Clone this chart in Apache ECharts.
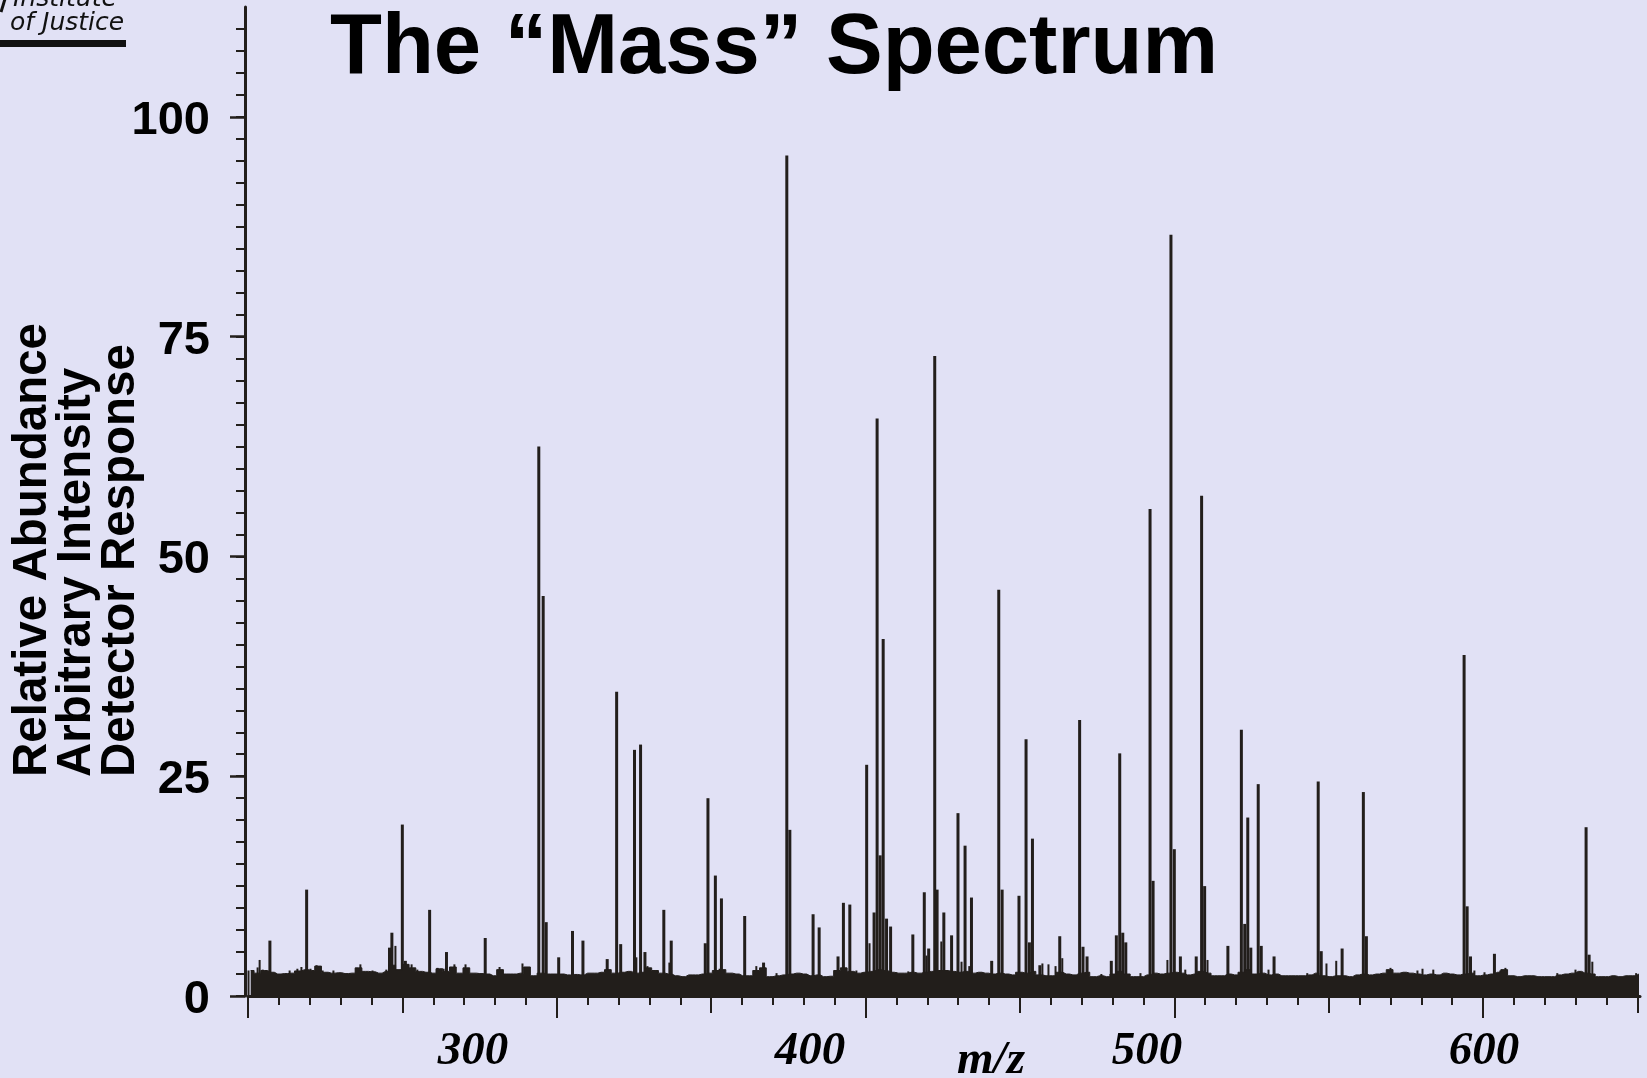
<!DOCTYPE html>
<html>
<head>
<meta charset="utf-8">
<title>The “Mass” Spectrum</title>
<script src="https://cdn.jsdelivr.net/npm/echarts@6/dist/echarts.min.js"></script>
<style>
  html, body { margin: 0; padding: 0; background: #e1e1f5; }
  #chart { width: 1647px; height: 1078px; }
</style>
</head>
<body>
<div id="chart"></div>
<script>
// Resolved peaks: m/z position and relative abundance (%)
const peakMz = [
  239.7, 250.6, 275.2, 275.9, 279.0, 279.9, 287.1, 292.1, 303.6,
  319.5, 320.8, 321.7, 325.4, 329.5, 332.6, 339.8, 342.6, 343.8, 347.9, 349.7, 351.0,
  356.6, 358.8, 368.9, 369.7, 371.9, 373.7, 380.6, 386.2, 393.1, 394.0,
  400.9, 402.7, 408.3, 409.9, 411.8, 416.8, 419.0, 419.9, 420.8, 421.7, 422.7, 423.9,
  430.5, 433.9, 435.2, 437.0, 437.7, 439.7, 442.0, 443.9, 446.0, 447.9,
  453.9, 456.0, 457.0, 462.0, 464.1, 465.1, 466.0, 468.2, 474.1,
  480.0, 481.0, 482.2, 489.4, 490.9, 491.9, 492.8, 493.7,
  500.9, 501.8, 507.1, 508.1, 509.9, 514.6, 516.2, 517.1,
  524.0, 528.0, 529.0, 529.9, 530.8, 533.0, 533.9, 537.7,
  550.8, 551.7, 557.9, 564.2, 565.1, 594.1, 595.0, 596.0, 603.1, 630.3, 631.2
];
const peakAbundance = [
  6.3, 12.1, 5.5, 7.2, 19.5, 4.0, 9.8, 5.0, 6.6,
  62.5, 45.5, 8.4, 4.4, 7.4, 6.3, 4.2, 34.6, 5.9, 28.0, 28.6, 5.0,
  9.8, 6.3, 6.0, 22.5, 13.7, 11.1, 9.1, 3.8, 95.6, 18.9,
  9.3, 7.8, 4.5, 10.6, 10.4, 26.3, 9.5, 65.7, 16.0, 40.6, 8.8, 7.9,
  7.0, 11.8, 5.4, 72.8, 12.1, 9.5, 6.9, 20.8, 17.1, 11.2,
  4.0, 46.2, 12.1, 11.4, 29.2, 6.1, 17.9, 3.5, 6.8,
  31.4, 5.6, 4.5, 4.0, 6.9, 27.6, 7.2, 6.1,
  55.4, 13.1, 86.6, 16.7, 4.5, 4.5, 56.9, 12.5,
  5.7, 30.3, 8.2, 20.3, 5.5, 24.1, 5.7, 4.5,
  24.4, 5.1, 5.4, 23.2, 6.8, 38.8, 10.2, 4.5, 4.8, 19.2, 4.7
];

// Small spikes standing just above the baseline noise
const spikeMz = [
  233.5, 236.2, 236.8, 237.7, 245.7, 248.0, 249.2, 251.9, 253.7, 255.5, 258.7,
  265.5, 266.7, 270.3, 274.4, 277.1, 281.9, 283.6, 289.6, 291.4, 294.6, 297.9,
  308.0, 314.8, 316.0, 348.6, 351.9, 353.7, 358.4, 373.3, 384.2, 390.2,
  413.9, 417.8, 425.8, 429.3, 434.7, 439.1, 445.1, 447.4, 450.1,
  469.1, 470.9, 473.0, 475.0, 486.6, 498.2, 506.2, 511.5, 518.1,
  536.2, 547.7, 553.4, 556.3, 572.4, 580.4, 581.9, 585.1, 597.3, 600.3,
  605.0, 606.5, 621.9, 627.3, 628.5, 632.3, 645.3
];
const spikeAbundance = [
  2.9, 3.25, 4.1, 3.0, 2.9, 3.1, 3.3, 3.1, 3.5, 2.9, 2.9,
  3.1, 3.6, 2.9, 3.0, 5.7, 3.6, 3.0, 3.2, 3.1, 3.6, 3.6,
  3.3, 3.7, 3.0, 4.4, 3.4, 2.8, 3.8, 3.1, 3.4, 2.6,
  2.9, 6.0, 2.7, 2.8, 4.6, 6.2, 3.9, 3.4, 2.6,
  3.7, 3.6, 3.4, 4.3, 2.5, 2.6, 4.1, 3.0, 4.1,
  3.0, 2.6, 3.7, 4.0, 3.2, 2.9, 3.1, 3.0, 2.9, 2.7,
  2.9, 3.2, 2.6, 3.0, 2.8, 3.9, 2.6
];

// Baseline chemical noise, one level every 2 m/z starting at m/z 234
const noiseStart = 234;
const noiseStep = 2;
const noiseLevel = [
  2.9, 2.6, 2.9, 2.7, 2.5, 2.55, 2.6, 2.85, 3.0, 2.9, 3.4, 2.7, 2.6, 2.65, 2.55, 2.6,
  3.2, 2.8, 2.75, 2.6, 2.8, 3.5, 3.0, 3.6, 3.2, 2.8, 2.7, 2.6, 3.1, 2.8, 3.3, 2.6,
  3.2, 2.6, 2.55, 2.5, 2.3, 3.0, 2.5, 2.5, 2.6, 3.3, 2.3, 2.6, 2.5, 2.5, 2.5, 2.4,
  2.45, 2.4, 2.6,
  2.6, 2.7, 3.0, 2.6, 2.7, 2.8, 2.6, 2.7, 3.2, 2.9, 2.6, 2.5, 2.3, 2.2, 2.4, 2.4,
  2.5, 2.6, 2.9, 3.0, 2.6, 2.5, 2.3, 2.3, 2.9, 3.2, 2.2, 2.3, 2.4, 2.5, 2.6, 2.5,
  2.3, 2.4, 2.2, 2.25, 2.9, 3.2, 2.8, 2.6, 2.7, 2.8, 3.0, 2.9, 2.7, 2.6, 2.6, 2.7,
  2.6, 2.7, 2.8, 2.9,
  2.9, 2.8, 2.7, 2.8, 2.6, 2.7, 2.6, 2.5, 2.6, 2.5, 2.4, 2.7, 2.6, 2.8, 2.4, 2.3,
  2.3, 2.7, 2.5, 2.4, 2.6, 2.7, 2.2, 2.3, 2.2, 2.5, 2.8, 2.5, 2.2, 2.2, 2.4, 2.6,
  2.5, 2.6, 2.7, 2.6, 2.4, 2.5, 2.8, 2.6, 2.3, 2.3, 2.5, 2.4, 2.7, 3.0, 2.5, 2.6,
  2.4, 2.5, 2.3, 2.3,
  2.3, 2.3, 2.4, 2.6, 2.3, 2.2, 2.3, 2.3, 2.2, 2.4, 2.5, 2.4, 2.5, 2.6, 3.0, 2.6,
  2.7, 2.6, 2.5, 2.4, 2.5, 2.4, 2.6, 2.5, 2.4, 2.5, 2.6, 2.3, 2.4, 2.5, 2.7, 3.0,
  2.3, 2.2, 2.3, 2.3, 2.2, 2.2, 2.2, 2.4, 2.5, 2.6, 2.8, 2.6, 2.5, 2.2, 2.2, 2.3,
  2.2, 2.3, 2.3, 2.5
];

// Axis labels and ticks
const yLabelValues = [0, 25, 50, 75, 100];
const xLabelValues = [300, 400, 500, 600];
const yMinorStep = 2.5;
const rulerMinorStep = 10;

const ink = '#221e1b';

const yMinorTicks = [];
for (let v = 0; v <= 110; v += yMinorStep) yMinorTicks.push(v);
const rulerMinor = [], rulerMedium = [], rulerMajor = [];
for (let v = 200; v <= 650; v += rulerMinorStep) {
  rulerMinor.push(v);
  if (v % 100 === 50) rulerMedium.push(v);
  if (v % 100 === 0) rulerMajor.push(v);
}

const noiseData = noiseLevel.map((h, i) => [noiseStart + i * noiseStep, h]);
const peakData = peakMz.map((mz, i) => [mz, peakAbundance[i]]);
const spikeData = spikeMz.map((mz, i) => [mz, spikeAbundance[i]]);

const chart = echarts.init(document.getElementById('chart'), null, { renderer: 'canvas' });

const hidden = { show: false };
const rulerAxis = (ticks, len, width, showLine) => ({
  type: 'value', min: 200, max: 650.85, position: 'bottom', offset: 3,
  axisLine: { show: showLine, lineStyle: { color: ink, width: 3 } },
  axisTick: { show: true, customValues: ticks, length: len, lineStyle: { color: ink, width: 2 } },
  axisLabel: hidden, splitLine: hidden
});

chart.setOption({
  animation: false,
  backgroundColor: '#e1e1f5',
  grid: { left: 248, right: 7, top: 7, bottom: 82, containLabel: false },
  xAxis: [
    {
      type: 'value', min: 233.2, max: 646.3, position: 'bottom',
      axisLine: hidden, axisTick: hidden, splitLine: hidden,
      axisLabel: {
        customValues: xLabelValues, margin: 32, color: '#000',
        fontFamily: 'Liberation Serif', fontStyle: 'italic', fontWeight: 'bold', fontSize: 47
      }
    },
    rulerAxis(rulerMinor, 9, 2, true),
    rulerAxis(rulerMedium, 14, 2, false),
    rulerAxis(rulerMajor, 19, 2.5, false)
  ],
  yAxis: [
    {
      type: 'value', min: 0, max: 112.5, position: 'left', offset: 3,
      axisLine: { show: true, lineStyle: { color: ink, width: 3 } },
      axisTick: { show: true, customValues: yMinorTicks, length: 9, lineStyle: { color: ink, width: 2 } },
      axisLabel: hidden, splitLine: hidden
    },
    {
      type: 'value', min: 0, max: 112.5, position: 'left', offset: 3,
      axisLine: hidden,
      axisTick: { show: true, customValues: yLabelValues, length: 15, lineStyle: { color: ink, width: 2.5 } },
      axisLabel: {
        customValues: yLabelValues, margin: 35, color: '#000',
        verticalAlign: 'top', lineHeight: 8,
        fontFamily: 'Liberation Sans', fontWeight: 'bold', fontSize: 47
      },
      splitLine: hidden
    }
  ],
  series: [
    {
      type: 'line', name: 'noise', xAxisIndex: 0, yAxisIndex: 0,
      data: noiseData, step: 'middle', symbol: 'none', silent: true,
      lineStyle: { color: ink, width: 1 },
      areaStyle: { color: ink, opacity: 1 }
    },
    {
      type: 'bar', name: 'spikes', xAxisIndex: 0, yAxisIndex: 0,
      data: spikeData, barWidth: 2, barGap: '-100%', silent: true,
      itemStyle: { color: ink }
    },
    {
      type: 'bar', name: 'peaks', xAxisIndex: 0, yAxisIndex: 0,
      data: peakData, barWidth: 3, barGap: '-100%', silent: true,
      itemStyle: { color: ink }
    }
  ],
  graphic: [
    // page title
    {
      type: 'text', x: 774, y: 50,
      style: {
        text: 'The “Mass” Spectrum', fill: '#000',
        font: 'bold 85px "Liberation Sans", Arial, sans-serif',
        textAlign: 'center', textVerticalAlign: 'middle'
      }
    },
    // ordinate caption, three stacked rotated lines
    {
      type: 'text', x: 11, y: 777, rotation: Math.PI / 2,
      style: {
        text: 'Relative Abundance\nArbitrary Intensity\nDetector Response', fill: '#000',
        font: 'bold 47.5px "Liberation Sans", Arial, sans-serif', lineHeight: 44,
        textAlign: 'left', textVerticalAlign: 'top'
      }
    },
    // abscissa caption
    {
      type: 'text', x: 991, y: 1061,
      style: {
        text: 'm/z', fill: '#000',
        font: 'italic bold 47px "Liberation Serif", "Times New Roman", serif',
        textAlign: 'center', textVerticalAlign: 'middle'
      }
    },
    // institute mark in the corner
    {
      type: 'line', shape: { x1: 5, y1: -1, x2: 1, y2: 12 },
      style: { stroke: '#111', lineWidth: 3 }
    },
    {
      type: 'text', x: 13, y: 12,
      style: {
        text: 'Institute', fill: '#111',
        font: 'italic 25px "DejaVu Sans", sans-serif',
        textAlign: 'left', textVerticalAlign: 'bottom'
      }
    },
    {
      type: 'text', x: 10, y: 36,
      style: {
        text: 'of Justice', fill: '#111',
        font: 'italic 25px "DejaVu Sans", sans-serif',
        textAlign: 'left', textVerticalAlign: 'bottom'
      }
    },
    {
      type: 'rect', shape: { x: 0, y: 40, width: 126, height: 7 },
      style: { fill: '#111' }
    }
  ]
});
</script>
</body>
</html>
